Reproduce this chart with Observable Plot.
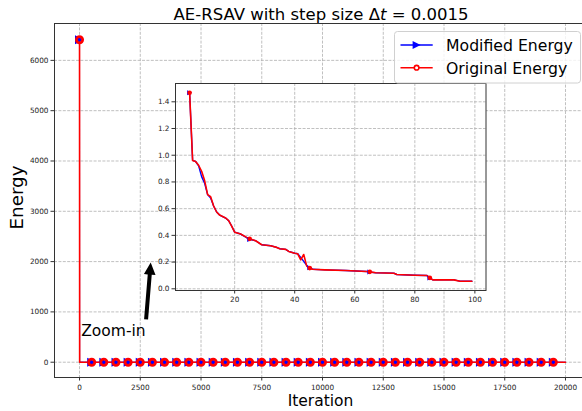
<!DOCTYPE html>
<html><head><meta charset="utf-8">
<script src="https://cdn.jsdelivr.net/npm/d3@7"></script>
<script src="https://cdn.jsdelivr.net/npm/@observablehq/plot@0.6"></script>
<style>
body{margin:0;background:#fff;font-family:"DejaVu Sans",sans-serif;}
#wrap{position:relative;width:582px;height:411px;overflow:hidden;background:#fff;}
#wrap svg{position:absolute;overflow:visible;}
</style></head><body><div id="wrap"></div>
<script>
// ---------- data ----------
const mainIterations = [0, 5, 500, 1000, 1500, 2000, 2500, 3000, 3500, 4000, 4500, 5000, 5500, 6000, 6500, 7000, 7500, 8000, 8500, 9000, 9500, 10000, 10500, 11000, 11500, 12000, 12500, 13000, 13500, 14000, 14500, 15000, 15500, 16000, 16500, 17000, 17500, 18000, 18500, 19000, 19500, 20000];
const modifiedMain = [6410, 1.47, 0.05, 0.05, 0.05, 0.05, 0.05, 0.05, 0.05, 0.05, 0.05, 0.05, 0.05, 0.05, 0.05, 0.05, 0.05, 0.05, 0.05, 0.05, 0.05, 0.05, 0.05, 0.05, 0.05, 0.05, 0.05, 0.05, 0.05, 0.05, 0.05, 0.05, 0.05, 0.05, 0.05, 0.05, 0.05, 0.05, 0.05, 0.05, 0.05, 0.05];
const originalMain = [6410, 1.47, 0.05, 0.05, 0.05, 0.05, 0.05, 0.05, 0.05, 0.05, 0.05, 0.05, 0.05, 0.05, 0.05, 0.05, 0.05, 0.05, 0.05, 0.05, 0.05, 0.05, 0.05, 0.05, 0.05, 0.05, 0.05, 0.05, 0.05, 0.05, 0.05, 0.05, 0.05, 0.05, 0.05, 0.05, 0.05, 0.05, 0.05, 0.05, 0.05, 0.05];

const insetIterations = [5, 6, 7, 8, 9, 10, 11, 12, 13, 14, 15, 17, 18, 19, 20, 22, 24, 25, 27, 28, 29, 32, 34, 35, 37, 38, 40, 41, 42, 43, 44, 45, 46, 50, 57, 64, 65, 67, 73, 74, 80, 84, 85, 86, 93, 95, 99];
const insetModified = [1.468, 0.961, 0.953, 0.92, 0.84, 0.79, 0.705, 0.68, 0.62, 0.575, 0.552, 0.53, 0.51, 0.47, 0.424, 0.41, 0.382, 0.37, 0.36, 0.345, 0.33, 0.322, 0.31, 0.30, 0.295, 0.28, 0.266, 0.262, 0.235, 0.205, 0.175, 0.157, 0.146, 0.142, 0.137, 0.13, 0.125, 0.12, 0.117, 0.107, 0.102, 0.1, 0.08, 0.067, 0.067, 0.057, 0.057];
const insetOriginal = [1.468, 0.961, 0.953, 0.925, 0.88, 0.81, 0.705, 0.69, 0.62, 0.575, 0.552, 0.53, 0.51, 0.47, 0.424, 0.41, 0.385, 0.374, 0.36, 0.345, 0.33, 0.322, 0.31, 0.30, 0.295, 0.28, 0.266, 0.262, 0.217, 0.257, 0.17, 0.155, 0.146, 0.142, 0.137, 0.13, 0.127, 0.12, 0.117, 0.107, 0.102, 0.1, 0.082, 0.067, 0.067, 0.057, 0.057];

const mainXTicks = [0, 2500, 5000, 7500, 10000, 12500, 15000, 17500, 20000];
const mainYTicks = [0, 1000, 2000, 3000, 4000, 5000, 6000];
const insetXTicks = [20, 40, 60, 80, 100];
const insetYTicks = [0, 0.2, 0.4, 0.6, 0.8, 1.0, 1.2, 1.4];

const seriesNames = ["Modified Energy", "Original Energy"];
const seriesColors = ["blue", "red"];
const xLabel = "Iteration";
const yLabel = "Energy";
const annotationText = "Zoom-in";
const annotationTextAt = [70, 530];
const arrowFrom = [2760, 840];
const arrowTo = [2950, 1970];

// ---------- helpers ----------
const triRight = {draw(ctx, size) {
  const r = Math.sqrt(size / Math.PI);
  ctx.moveTo(r, 0); ctx.lineTo(-r, -r); ctx.lineTo(-r, r); ctx.closePath();
}};
const gridStyle = {stroke: "#b0b0b0", strokeOpacity: 1, strokeWidth: 0.8, strokeDasharray: "3,1.4"};
const font = "DejaVu Sans";
const wrap = document.getElementById("wrap");

// ---------- main plot ----------
const mainData = mainIterations.map((it, i) => ({it, mod: modifiedMain[i], orig: originalMain[i]}));
const mainMarkers = mainData.filter(d => d.it % 500 === 0 && d.it < 20000);
const xDom = [-1030, 20700], yDom = [-304, 6733];

const arrowMark = (index, {x, y}) => {
  const x1 = x(arrowFrom[0]), y1 = y(arrowFrom[1]), x2 = x(arrowTo[0]), y2 = y(arrowTo[1]);
  const dx = x2 - x1, dy = y2 - y1, L = Math.hypot(dx, dy);
  const ux = dx / L, uy = dy / L, px = -uy, py = ux;
  const hl = 12, hw = 5.8, sw = 2;
  const bx = x2 - ux * hl, by = y2 - uy * hl;
  const pts = [
    [x1 + px * sw, y1 + py * sw], [bx + px * sw, by + py * sw], [bx + px * hw, by + py * hw],
    [x2, y2], [bx - px * hw, by - py * hw], [bx - px * sw, by - py * sw], [x1 - px * sw, y1 - py * sw]
  ];
  const g = d3.create("svg:g");
  g.append("polygon").attr("points", pts.map(p => p.join(",")).join(" ")).attr("fill", "black");
  return g.node();
};

const main = Plot.plot({
  width: 582, height: 411,
  marginLeft: 54, marginRight: 0, marginTop: 23, marginBottom: 34,
  style: {fontFamily: font, fontSize: "7.3px", color: "#222", background: "transparent"},
  x: {domain: xDom, label: null},
  y: {domain: yDom, label: null},
  marks: [
    Plot.gridX(mainXTicks, gridStyle),
    Plot.gridY(mainYTicks, gridStyle),
    Plot.axisX(mainXTicks, {tickFormat: "d", tickSize: 3.5, tickPadding: 3.5, label: null, stroke: "#333"}),
    Plot.axisY(mainYTicks, {tickFormat: "d", tickSize: 3.5, tickPadding: 2.5, label: null, stroke: "#333"}),
    Plot.ruleX([xDom[0]], {stroke: "#333", strokeWidth: 1}),
    Plot.ruleY(yDom, {stroke: "#333", strokeWidth: 1}),
    Plot.line(mainData, {x: "it", y: "mod", stroke: seriesColors[0], strokeWidth: 1.0}),
    Plot.line(mainData, {x: "it", y: "orig", stroke: seriesColors[1], strokeWidth: 1.6}),
    Plot.dot(mainMarkers, {x: "it", y: "mod", symbol: triRight, r: 4.5, fill: seriesColors[0], stroke: null}),
    Plot.dot(mainMarkers, {x: "it", y: "orig", r: 3.1, stroke: seriesColors[1], strokeWidth: 2.8, fill: "none"}),
    arrowMark,
    Plot.text([annotationText], {x: annotationTextAt[0], y: annotationTextAt[1], text: d => d, textAnchor: "start", lineAnchor: "bottom", fontSize: 15.5, fill: "black"})
  ]
});
main.style.left = "0px"; main.style.top = "0px";
wrap.appendChild(main);

// ---------- inset ----------
const insetData = insetIterations.map((it, i) => ({it, mod: insetModified[i], orig: insetOriginal[i]}));
const insetMarkers = insetData.filter(d => (d.it - 5) % 20 === 0);
const inset = Plot.plot({
  width: 355, height: 235,
  marginLeft: 35, marginRight: 9.5, marginTop: 8, marginBottom: 20,
  style: {fontFamily: font, fontSize: "7.3px", color: "#222", background: "transparent"},
  x: {domain: [0.3, 103.7], label: null},
  y: {domain: [-0.0127, 1.537], label: null},
  marks: [
    Plot.frame({fill: "white", stroke: null}),
    Plot.gridX(insetXTicks, gridStyle),
    Plot.gridY(insetYTicks, gridStyle),
    Plot.axisX(insetXTicks, {tickFormat: "d", tickSize: 3.5, tickPadding: 3, label: null, stroke: "#333"}),
    Plot.axisY(insetYTicks, {tickFormat: ".1f", tickSize: 3.5, tickPadding: 2.5, label: null, stroke: "#333"}),
    Plot.line(insetData, {x: "it", y: "mod", stroke: seriesColors[0], strokeWidth: 1.4}),
    Plot.line(insetData, {x: "it", y: "orig", stroke: seriesColors[1], strokeWidth: 1.6}),
    Plot.dot(insetMarkers, {x: "it", y: "mod", symbol: triRight, r: 2.5, fill: seriesColors[0], stroke: null}),
    Plot.dot(insetMarkers, {x: "it", y: "orig", r: 2.3, fill: seriesColors[1], stroke: null}),
    Plot.frame({stroke: "#333", strokeWidth: 1})
  ]
});
inset.style.left = "140px"; inset.style.top = "75px";
wrap.appendChild(inset);

// ---------- texts & legend ----------
const overlay = d3.create("svg").attr("width", 582).attr("height", 411).style("left", "0px").style("top", "0px").style("pointer-events", "none");
const title = overlay.append("text").attr("x", 321).attr("y", 20).attr("text-anchor", "middle")
  .attr("font-family", font).attr("font-size", 16.5);
title.append("tspan").text("AE-RSAV with step size Δ");
title.append("tspan").attr("font-style", "italic").text("t");
title.append("tspan").text(" = 0.0015");

overlay.append("text").attr("x", 320.5).attr("y", 405.5).attr("text-anchor", "middle")
  .attr("font-family", font).attr("font-size", 15.5).text(xLabel);
overlay.append("text").attr("transform", "translate(23.3,197.5) rotate(-90)").attr("text-anchor", "middle")
  .attr("font-family", font).attr("font-size", 18.3).text(yLabel);

const lg = overlay.append("g");
lg.append("rect").attr("x", 394.5).attr("y", 31.5).attr("width", 186).attr("height", 51.5).attr("rx", 3)
  .attr("fill", "rgba(255,255,255,0.8)").attr("stroke", "#d0d0d0");
const rowsY = [45, 67.7];
seriesNames.forEach((name, i) => {
  const y = rowsY[i];
  lg.append("line").attr("x1", 400.5).attr("x2", 432.7).attr("y1", y).attr("y2", y).attr("stroke", seriesColors[i]).attr("stroke-width", 1.5);
  if (i === 0) {
    lg.append("path").attr("d", `M${416.6 + 4},${y} L${416.6 - 4},${y - 4} L${416.6 - 4},${y + 4} Z`).attr("fill", seriesColors[i]);
  } else {
    lg.append("circle").attr("cx", 416.6).attr("cy", y).attr("r", 2.3).attr("fill", "white").attr("stroke", seriesColors[i]).attr("stroke-width", 1.6);
  }
  lg.append("text").attr("x", 446).attr("y", y + 6).attr("font-family", font).attr("font-size", 15.7).text(name);
});
wrap.appendChild(overlay.node());
</script></body></html>
